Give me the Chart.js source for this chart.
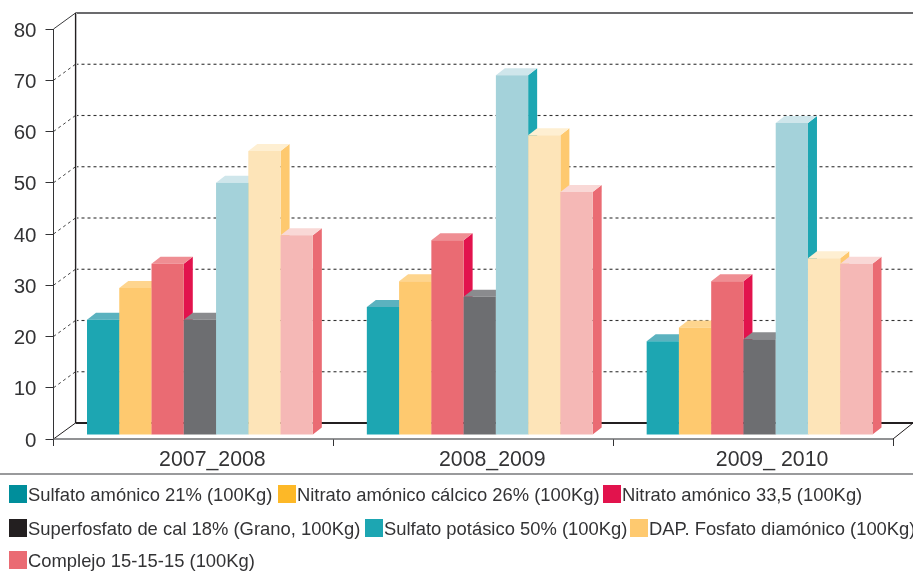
<!DOCTYPE html>
<html lang="es">
<head>
<meta charset="utf-8">
<title>Precio de fertilizantes</title>
<script src="https://cdn.jsdelivr.net/npm/chart.js@4"></script>
<style>
html,body{margin:0;padding:0;background:#fff;}
canvas{display:block;}
</style>
</head>
<body>
<canvas id="c" width="913" height="575"></canvas>
<script>
// ---- data ----
const categories = ['2007_2008', '2008_2009', '2009_ 2010'];
const sulfatoAmonico   = [22.5, 25.0, 18.3];
const nitratoCalcico   = [28.7, 30.0, 21.0];
const nitratoAmonico   = [33.4, 38.0, 30.0];
const superfosfato     = [22.5, 27.0, 18.7];
const sulfatoPotasico  = [49.2, 70.2, 60.9];
const dap              = [55.4, 58.5, 34.5];
const complejo         = [39.0, 47.4, 33.4];
const seriesNames = [
  'Sulfato amónico 21% (100Kg)',
  'Nitrato amónico cálcico 26% (100Kg)',
  'Nitrato amónico 33,5 (100Kg)',
  'Superfosfato de cal 18% (Grano, 100Kg)',
  'Sulfato potásico 50% (100Kg)',
  'DAP. Fosfato diamónico (100Kg)',
  'Complejo 15-15-15 (100Kg)'
];
const seriesValues = [sulfatoAmonico, nitratoCalcico, nitratoAmonico, superfosfato, sulfatoPotasico, dap, complejo];

// ---- styles ----
const frontColors  = ['#1da6b2', '#fec96f', '#ea6b73', '#6d6e71', '#a4d2da', '#fde4b8', '#f5b8b6'];
const topColors    = ['#5bb2bf', '#fed58e', '#ef8e93', '#8a8b8e', '#cfe6eb', '#feefd2', '#f9d8d6'];
const sideColors   = ['#1da6b2', '#fec96f', '#e2134d', '#6d6e71', '#1da6b2', '#fec96f', '#ea6b73'];
const legendColors = ['#008e9b', '#fdb827', '#e2134d', '#231f20', '#1da6b2', '#fec96f', '#ea6b73'];
const legendSlots = [
  {x: 9, y: 485}, {x: 278, y: 485}, {x: 603, y: 485},
  {x: 9, y: 519}, {x: 365, y: 519}, {x: 630, y: 519},
  {x: 9, y: 551}
];
const WALL = {dx: 22, dy: -16};        // back wall offset from the front axis plane
const BARS = {dx: 6.5, dy: -4};        // bars' front plane offset
const DEPTH = {dx: 9, dy: -7};         // bar depth
const TEXT = '#333335';

function line(ctx, x1, y1, x2, y2, color, width, dash) {
  ctx.save();
  ctx.strokeStyle = color; ctx.lineWidth = width;
  ctx.setLineDash(dash || []);
  ctx.beginPath(); ctx.moveTo(x1, y1); ctx.lineTo(x2, y2); ctx.stroke();
  ctx.restore();
}
function poly(ctx, color, pts) {
  ctx.fillStyle = color;
  ctx.beginPath();
  pts.forEach((p, i) => i ? ctx.lineTo(p[0], p[1]) : ctx.moveTo(p[0], p[1]));
  ctx.closePath(); ctx.fill();
}

const bars3d = {
  id: 'bars3d',
  beforeDatasetsDraw(chart) {
    const {ctx, scales: {x, y}, chartArea: a, width} = chart;
    // back wall and floor
    const bx = a.left + WALL.dx;
    const floorY = y.getPixelForValue(0);
    y.ticks.forEach(t => {
      const py = y.getPixelForValue(t.value);
      if (t.value === 0) return;
      if (t.value === y.max) {
        line(ctx, a.left, py, bx, py + WALL.dy, '#3a3a3c', 1);
        line(ctx, bx, py + WALL.dy, width, py + WALL.dy, '#3a3a3c', 1.5);
      } else {
        line(ctx, a.left, py, bx, py + WALL.dy, '#444', 1, [3, 3]);
        line(ctx, bx, py + WALL.dy, width, py + WALL.dy, '#333', 1.1, [3, 3]);
      }
    });
    line(ctx, bx + 1, y.top + WALL.dy, bx + 1, floorY + WALL.dy, '#c9c9cb', 1);
    line(ctx, bx, y.top + WALL.dy, bx, floorY + WALL.dy, '#231f20', 1.2);
    line(ctx, a.left, floorY, bx, floorY + WALL.dy, '#231f20', 1);
    line(ctx, bx, floorY + WALL.dy, width, floorY + WALL.dy, '#231f20', 1.8);
    line(ctx, a.right, floorY, width, floorY + WALL.dy, '#231f20', 1);
    line(ctx, a.left, y.top, a.left, floorY, '#333335', 1);
    line(ctx, a.left, floorY, a.right, floorY, '#6d6e71', 1.6);

    // bars, left to right, each with its top and side faces
    ctx.save();
    ctx.translate(BARS.dx, BARS.dy);
    chart.data.datasets.forEach((ds, i) => {
      const meta = chart.getDatasetMeta(i);
      meta.data.forEach(b => {
        const l = b.x - b.width / 2, r = b.x + b.width / 2;
        const d = DEPTH;
        poly(ctx, sideColors[i], [[r, b.y], [r + d.dx, b.y + d.dy], [r + d.dx, b.base + d.dy], [r, b.base]]);
        poly(ctx, topColors[i], [[l, b.y], [l + d.dx, b.y + d.dy], [r + d.dx, b.y + d.dy], [r, b.y]]);
      });
      meta.controller.draw();
    });
    ctx.restore();
    return false;
  },
  afterDraw(chart) {
    const {ctx, width} = chart;
    line(ctx, 0, 474, width, 474, '#77787b', 1.6);
    ctx.save();
    ctx.font = '18.4px "Liberation Sans", Arial, sans-serif';
    ctx.textBaseline = 'alphabetic';
    chart.data.datasets.forEach((ds, i) => {
      const s = legendSlots[i];
      ctx.fillStyle = legendColors[i];
      ctx.fillRect(s.x, s.y, 18, 18);
      ctx.fillStyle = TEXT;
      ctx.fillText(ds.label, s.x + 19, s.y + 16);
    });
    ctx.restore();
  }
};

new Chart(document.getElementById('c'), {
  type: 'bar',
  plugins: [bars3d],
  data: {
    labels: categories,
    datasets: seriesNames.map((name, i) => ({
      label: name,
      data: seriesValues[i],
      backgroundColor: frontColors[i],
      borderWidth: 0
    }))
  },
  options: {
    responsive: false,
    animation: false,
    devicePixelRatio: 1,
    layout: {padding: {top: 29, right: 20, bottom: 101, left: 0}},
    datasets: {bar: {categoryPercentage: 0.807, barPercentage: 1}},
    plugins: {legend: {display: false}, tooltip: {enabled: false}},
    scales: {
      x: {
        afterFit(s) { s.height = 35; },
        grid: {drawOnChartArea: false, tickLength: 7, color: '#333335', lineWidth: 1},
        border: {display: false},
        ticks: {
          color: TEXT,
          labelOffset: 19,
          padding: 1,
          maxRotation: 0,
          font: {family: '"Liberation Sans", Arial, sans-serif', size: 21.3}
        }
      },
      y: {
        min: 0, max: 80,
        afterFit(s) { s.width = 53.5; },
        grid: {drawOnChartArea: false, tickLength: 8, color: '#333335', lineWidth: 1},
        border: {display: false},
        ticks: {
          color: TEXT,
          stepSize: 10,
          padding: 9,
          labelOffset: 2,
          font: {family: '"Liberation Sans", Arial, sans-serif', size: 20.5}
        }
      }
    }
  }
});
</script>
</body>
</html>
